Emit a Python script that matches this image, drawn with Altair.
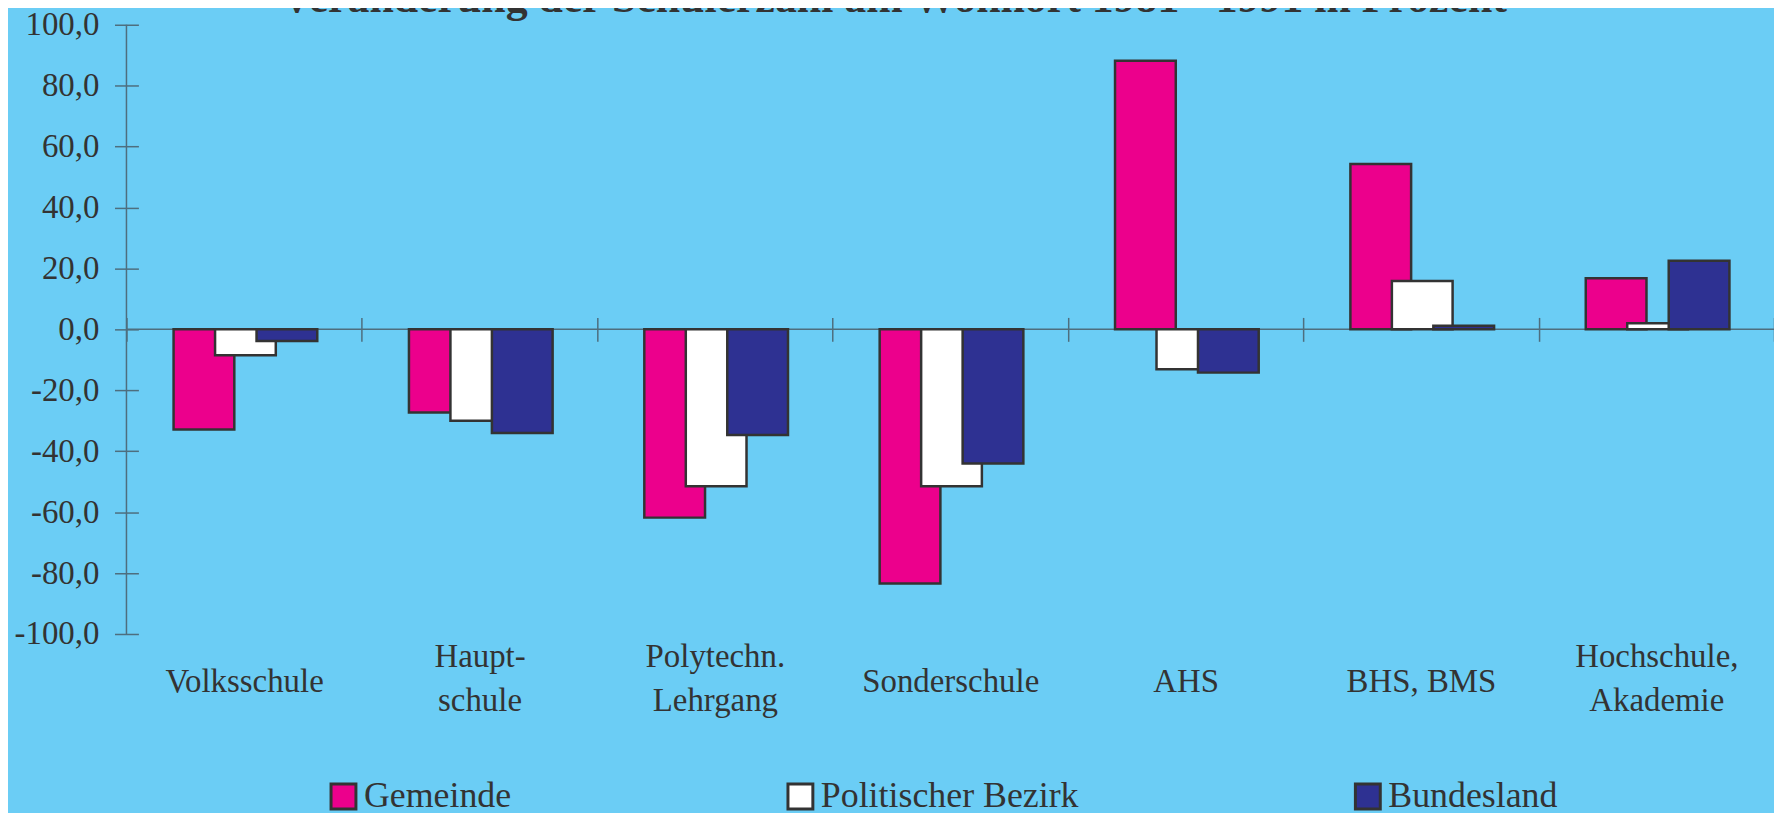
import altair as alt
import pandas as pd

title_text = "Veränderung der Schülerzahl am Wohnort 1981 - 1991 in Prozent"

categories = ["Volksschule", "Haupt-\nschule", "Polytechn.\nLehrgang", "Sonderschule",
              "AHS", "BHS, BMS", "Hochschule,\nAkademie"]
series = ["Gemeinde", "Politischer Bezirk", "Bundesland"]
gemeinde = [-32.9, -27.3, -61.8, -83.4, 88.2, 54.3, 16.8]
bezirk = [-8.5, -30.0, -51.5, -51.5, -13.1, 15.9, 2.0]
bundesland = [-3.8, -34.0, -34.7, -44.0, -14.2, 1.2, 22.5]
y_ticks = [-100, -80, -60, -40, -20, 0, 20, 40, 60, 80, 100]
colors = ["#EC008C", "#FFFFFF", "#2E3192"]

rows = []
for name, vals in zip(series, [gemeinde, bezirk, bundesland]):
    for c, v in zip(categories, vals):
        rows.append({"Schulart": c, "Gebiet": name, "Wert": v})
df = pd.DataFrame(rows)

W, H = 1655, 612
FONT = "Liberation Serif"
TXT = "#333333"
AX = "#4e6e7e"
BG = "#6BCDF5"

two_lines = "indexof(datum.label, '\\n') >= 0"

bars = alt.Chart(df).mark_bar(width=61, stroke="#333333", strokeWidth=2.5).encode(
    x=alt.X("Schulart:N", sort=categories,
            scale=alt.Scale(paddingInner=0, paddingOuter=0),
            axis=alt.Axis(title=None, domain=False, grid=False, ticks=True, tickSize=24,
                          tickBand="extent", tickColor=AX, tickWidth=1.5, offset=-318,
                          labelPadding=alt.condition(two_lines, alt.value(316.5), alt.value(341.5)),
                          labelAngle=0, labelFont=FONT, labelFontSize=33,
                          labelColor=TXT, labelLineHeight=44, labelBaseline="middle",
                          labelLimit=400, labelOverlap=False,
                          labelExpr="split(datum.label, '\\n')")),
    xOffset=alt.XOffset("Gebiet:N", sort=series,
                        scale=alt.Scale(domain=series, range=[57, 182], paddingInner=0, paddingOuter=0)),
    y=alt.Y("Wert:Q", stack=None,
            scale=alt.Scale(domain=[-100, 100], nice=False, zero=False),
            axis=alt.Axis(title=None, values=y_ticks, domain=False, grid=False, tickSize=24,
                          offset=-12, tickColor=AX, tickWidth=1.5, labelPadding=15.7,
                          labelFont=FONT, labelFontSize=33, labelColor=TXT,
                          labelExpr="(datum.value < 0 ? '-' : '') + replace(format(abs(datum.value), '.1f'), '.', ',')")),
    color=alt.Color("Gebiet:N", sort=series,
                    scale=alt.Scale(domain=series, range=colors),
                    legend=alt.Legend(title=None, orient="none", legendX=200, legendY=757,
                                      direction="horizontal", symbolType="square", symbolSize=625,
                                      symbolStrokeColor="#333333", symbolStrokeWidth=3,
                                      symbolOpacity=1, labelFont=FONT, labelFontSize=36,
                                      labelColor=TXT, columnPadding=271, labelOffset=2.5,
                                      labelLimit=500, padding=0)),
)

zero_line = alt.Chart(pd.DataFrame({"v": [0]})).mark_rule(color=AX, strokeWidth=1.5).encode(
    y=alt.datum(0), x=alt.value(0), x2=alt.value(W)
)

y_line = alt.Chart(pd.DataFrame({"v": [0]})).mark_rule(color=AX, strokeWidth=1.5).encode(
    x=alt.value(0), y=alt.value(0), y2=alt.value(H)
)

title = alt.Chart(pd.DataFrame({"t": [title_text]})).mark_text(
    font=FONT, fontSize=44, fontWeight="bold", color=TXT, align="center", baseline="alphabetic"
).encode(text="t:N", x=alt.value(771), y=alt.value(-13))

chart = alt.layer(zero_line, y_line, bars, title).properties(
    width=W, height=H,
    padding={"left": 119, "top": 15, "right": 0, "bottom": 178},
    autosize=alt.AutoSizeParams(type="none"),
).configure(background=BG).configure_view(stroke=None)

chart.save("out.html", embed_options={"renderer": "svg", "actions": False})
